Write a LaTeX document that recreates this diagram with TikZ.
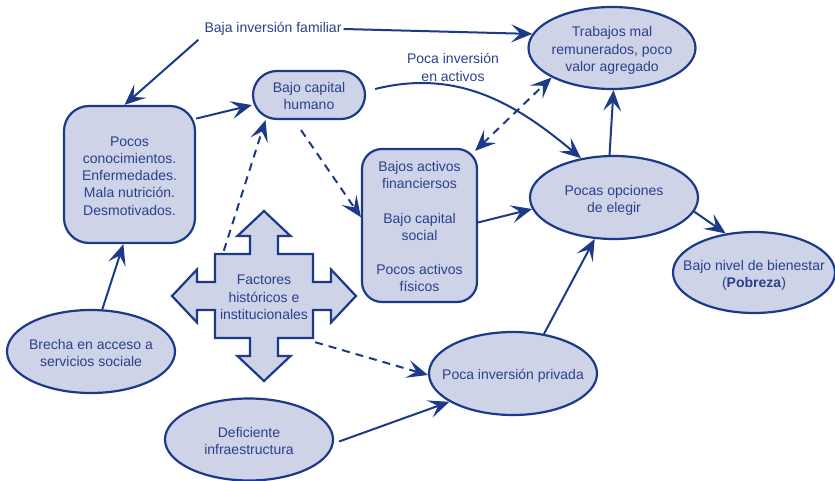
\documentclass[tikz,border=0pt]{standalone}
\usepackage{fontspec}
\setmainfont{Liberation Sans}
\usetikzlibrary{arrows.meta,shapes.geometric}

\definecolor{navy}{RGB}{28,58,135}
\definecolor{lav}{RGB}{207,211,232}
\definecolor{ink}{RGB}{42,64,140}

% centred multi-line text that does not enlarge its shape
\newcommand{\boxtext}[1]{\smash{\makebox[0pt]{\raisebox{-0.45em}{\begin{tabular}{@{}c@{}}#1\end{tabular}}}}}

\tikzset{
  lbl/.style={text=ink, font=\fontsize{14}{17.2}\selectfont},
  ell/.style={lbl, ellipse, draw=navy, fill=lav, line width=2.2pt, inner sep=0pt},
  rbox/.style={lbl, rectangle, draw=navy, fill=lav, line width=2.2pt, inner sep=0pt},
  tip/.tip={Stealth[length=21pt,width=18pt,inset=9pt]},
  conn/.style={draw=navy, line width=2pt, -tip},
  dashconn/.style={conn, dash pattern=on 8pt off 6pt},
}

\begin{document}
\begin{tikzpicture}[x=1pt,y=-1pt]
\useasboundingbox (0,0) rectangle (835,481);

% cross-shaped "factors" arrow
\begin{scope}[shift={(264,296)}]
  \draw[navy, line width=2.2pt, fill=lav]
    (0,-85) -- (26.5,-60) -- (14,-60) -- (14,-42) -- (49,-42) -- (49,-14)
    -- (67,-14) -- (67,-26.5) -- (92,0) -- (67,26.5) -- (67,14) -- (49,14)
    -- (49,42) -- (14,42) -- (14,60) -- (26.5,60) -- (0,85) -- (-26.5,60)
    -- (-14,60) -- (-14,42) -- (-49,42) -- (-49,14) -- (-67,14) -- (-67,26.5)
    -- (-92,0) -- (-67,-26.5) -- (-67,-14) -- (-49,-14) -- (-49,-42)
    -- (-14,-42) -- (-14,-60) -- (-26.5,-60) -- cycle;
\end{scope}
\node[lbl, minimum width=98pt, minimum height=84pt, inner sep=0pt] (fac) at (264,296)
  {\boxtext{Factores\\históricos e\\institucionales}};

% shapes
\node[ell, minimum width=167pt, minimum height=82pt] (trab) at (612,48)
  {\boxtext{Trabajos mal\\remunerados, poco\\valor agregado}};
\node[rbox, rounded corners=24pt, minimum width=112pt, minimum height=48pt] (bch) at (309,95)
  {\boxtext{Bajo capital\\humano}};
\node[rbox, rounded corners=25pt, minimum width=131pt, minimum height=137pt] (poc) at (129.5,174.5)
  {\boxtext{Pocos\\conocimientos.\\Enfermedades.\\Mala nutrición.\\Desmotivados.}};
\node[rbox, rounded corners=20pt, minimum width=115pt, minimum height=153pt] (bact) at (419.5,225.5)
  {\boxtext{Bajos activos\\financiersos\\ \\Bajo capital\\social\\ \\Pocos activos\\físicos}};
\node[ell, minimum width=168pt, minimum height=83pt] (opc) at (614,197.5)
  {\boxtext{Pocas opciones\\de elegir}};
\node[ell, minimum width=162pt, minimum height=81pt] (bnb) at (754,272.5)
  {\boxtext{Bajo nivel de bienestar\\(\textbf{Pobreza})}};
\node[ell, minimum width=168pt, minimum height=83pt] (brecha) at (91,351.5)
  {\boxtext{Brecha en acceso a\\servicios sociale}};
\node[ell, minimum width=168pt, minimum height=82pt] (def) at (249,439.5)
  {\boxtext{Deficiente\\infraestructura}};
\node[ell, minimum width=168pt, minimum height=83pt] (pip) at (513,373.5)
  {\boxtext{Poca inversión privada}};

% free labels
\node[lbl, inner sep=2pt] (baja) at (273,29) {Baja inversión familiar};
\node[lbl, align=center, inner sep=0pt] (pia) at (453,67.5) {Poca inversión\\en activos};

% connectors
\draw[conn] (baja.east) -- (trab.170);
\draw[conn] ([xshift=-4pt,yshift=-2pt]baja.south west) -- ([xshift=-5pt]poc.north);
\draw[conn] (poc.40) -- (bch.190);
\draw[conn] ([xshift=9pt,yshift=6pt]bch.east) to[out=14,in=140] (opc.130);
\draw[dashconn] ([xshift=-8pt,yshift=-10pt]bch.south) -- (bact.172);
\draw[dashconn] ([xshift=9pt,yshift=3pt]fac.north west) -- (bch.210);
\draw[dashconn, tip-tip] ([xshift=-3pt,yshift=-3pt]bact.north east) -- (trab.206);
\draw[conn] ([yshift=3pt]bact.east) -- (opc.188);
\draw[conn] (opc.96) -- (trab.272);
\draw[conn] (opc.-10) -- (bnb.126);
\draw[conn] (brecha.75) -- (poc.265);
\draw[dashconn] ([xshift=2pt,yshift=-4pt]fac.south east) -- (pip.181);
\draw[conn] ([xshift=5pt,yshift=-2pt]def.east) -- (pip.204);
\draw[conn] (pip.52) -- (opc.245);
\end{tikzpicture}
\end{document}
